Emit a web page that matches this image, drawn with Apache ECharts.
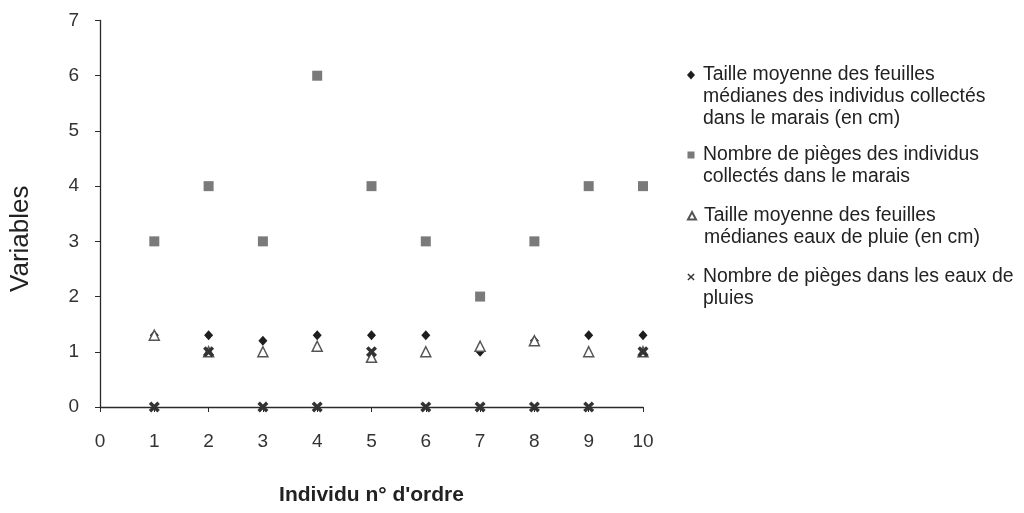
<!DOCTYPE html>
<html>
<head>
<meta charset="utf-8">
<script src="https://cdn.jsdelivr.net/npm/echarts@6/dist/echarts.min.js"></script>
<style>
html,body{margin:0;padding:0;background:#fff;}
#chart{width:1024px;height:513px;}
</style>
</head>
<body>
<div id="chart"></div>
<script>
// ---- data ----
const individus = [1, 2, 3, 4, 5, 6, 7, 8, 9, 10];
const xTicks = [0, 1, 2, 3, 4, 5, 6, 7, 8, 9, 10];
const yTicks = [0, 1, 2, 3, 4, 5, 6, 7];
const tailleMarais = [1.3, 1.3, 1.2, 1.3, 1.3, 1.3, 1.0, 1.2, 1.3, 1.3];
const piegesMarais = [3, 4, 3, 6, 4, 3, 2, 3, 4, 4];
const taillePluie = [1.3, 1.0, 1.0, 1.1, 0.9, 1.0, 1.1, 1.2, 1.0, 1.0];
const piegesPluie = [0, 1, 0, 0, 1, 0, 0, 0, 0, 1];
const seriesNames = [
  "Taille moyenne des feuilles\nmédianes des individus collectés\ndans le marais (en cm)",
  "Nombre de pièges des individus\ncollectés dans le marais",
  "Taille moyenne des feuilles\nmédianes eaux de pluie (en cm)",
  "Nombre de pièges dans les eaux de\npluies"
];
const xTitle = "Individu n° d'ordre";
const yTitle = "Variables";

const pairs = arr => individus.map((x, i) => [x, arr[i]]);
const crossPath = 'path://M0,2.2L2.2,0L5,2.8L7.8,0L10,2.2L7.2,5L10,7.8L7.8,10L5,7.2L2.2,10L0,7.8L2.8,5Z';

const FONT = '"Liberation Sans", Arial, sans-serif';
const LH = 22;
const ICON_W = 14;
const legendFirstLine = [75, 155, 215, 277];

// legend icon shapes (drawn on the first text line); box = ICON_W x (lines*LH)
function legendIcon(kind, h) {
  const cx = ICON_W / 2, cy = LH / 2;
  const anchor = 'M0,0M' + ICON_W + ',' + h;
  let s = '';
  if (kind === 'diamond') {
    s = `M${cx},${cy - 4.5}L${cx + 4},${cy}L${cx},${cy + 4.5}L${cx - 4},${cy}Z`;
  } else if (kind === 'rect') {
    s = `M${cx - 3.5},${cy - 3.5}L${cx + 3.5},${cy - 3.5}L${cx + 3.5},${cy + 3.5}L${cx - 3.5},${cy + 3.5}Z`;
  } else if (kind === 'triangle') {
    s = `M${cx},${cy - 4}L${cx + 4},${cy + 3.5}L${cx - 4},${cy + 3.5}Z`;
  } else {
    const a = 3.6, t = 1.0;
    s = `M${cx - a},${cy - a + t}L${cx - a + t},${cy - a}L${cx},${cy - t}L${cx + a - t},${cy - a}L${cx + a},${cy - a + t}` +
        `L${cx + t},${cy}L${cx + a},${cy + a - t}L${cx + a - t},${cy + a}L${cx},${cy + t}L${cx - a + t},${cy + a}` +
        `L${cx - a},${cy + a - t}L${cx - t},${cy}Z`;
  }
  return 'path://' + anchor + s;
}
const iconKinds = ['diamond', 'rect', 'triangle', 'cross'];

const legends = seriesNames.map((name, i) => {
  const n = name.split('\n').length;
  const h = n * LH;
  return {
    orient: 'vertical',
    left: 684,
    top: legendFirstLine[i] - LH / 2,
    padding: 0,
    itemWidth: ICON_W,
    itemHeight: h,
    selectedMode: false,
    data: [{ name: name, icon: legendIcon(iconKinds[i], h) }],
    textStyle: { fontFamily: FONT, fontSize: 19.4, color: '#222', lineHeight: LH }
  };
});

const chart = echarts.init(document.getElementById('chart'), null, { renderer: 'canvas' });
chart.setOption({
  backgroundColor: '#ffffff',
  animation: false,
  legend: legends,
  grid: { left: 99, right: 381, top: 20.5, bottom: 106, containLabel: false },
  xAxis: {
    type: 'value', min: xTicks[0], max: xTicks[xTicks.length - 1], interval: 1,
    name: xTitle, nameLocation: 'middle', nameGap: 78,
    nameTextStyle: { fontFamily: FONT, fontSize: 21, fontWeight: 'bold', color: '#222' },
    axisLine: { show: true, onZero: false, lineStyle: { color: '#2a2a2a', width: 1.3 } },
    axisTick: { show: true, length: 5, inside: false, lineStyle: { color: '#2a2a2a' } },
    axisLabel: { fontFamily: FONT, fontSize: 19, color: '#333', margin: 25 },
    splitLine: { show: false }
  },
  yAxis: {
    type: 'value', min: yTicks[0], max: yTicks[yTicks.length - 1], interval: 1,
    name: yTitle, nameLocation: 'middle', nameGap: 66,
    nameTextStyle: { fontFamily: FONT, fontSize: 26, color: '#222', padding: [0, 50, 0, 0] },
    axisLine: { show: true, lineStyle: { color: '#2a2a2a', width: 1.3 } },
    axisTick: { show: true, length: 5, inside: false, lineStyle: { color: '#2a2a2a' } },
    axisLabel: { fontFamily: FONT, fontSize: 19, color: '#333', margin: 21 },
    splitLine: { show: false }
  },
  series: [
    { name: seriesNames[0], type: 'scatter', symbol: 'diamond', symbolSize: [9, 10],
      itemStyle: { color: '#1e1e1e', opacity: 1 }, data: pairs(tailleMarais) },
    { name: seriesNames[1], type: 'scatter', symbol: 'rect', symbolSize: 10,
      itemStyle: { color: '#7a7a7a', opacity: 1 }, data: pairs(piegesMarais) },
    { name: seriesNames[2], type: 'scatter', symbol: 'triangle', symbolSize: 10,
      itemStyle: { color: '#ffffff', borderColor: '#555', borderWidth: 1.5, opacity: 1 }, data: pairs(taillePluie) },
    { name: seriesNames[3], type: 'scatter', symbol: crossPath, symbolSize: 11,
      itemStyle: { color: '#333', opacity: 1 }, data: pairs(piegesPluie) }
  ]
});
</script>
</body>
</html>
